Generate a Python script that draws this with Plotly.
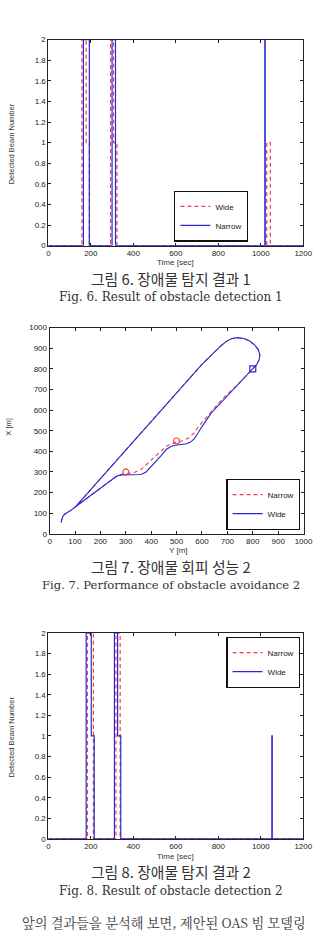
import plotly.graph_objects as go

W, H = 320, 936

# ---------------- Data ----------------
# Fig. 6 : detected beam number vs time (step functions, change points)
f6_wide_t = [0, 158, 178, 193, 293, 307, 323, 1028, 1045, 1200]
f6_wide_v = [0, 2, 1, 0, 2, 1, 0, 1, 0, 0]
f6_narrow_t = [0, 165, 193, 300, 316, 1019, 1021, 1200]
f6_narrow_v = [0, 2, 0, 2, 0, 2, 0, 0]

# Fig. 7 : trajectories (Y [m], X [m])
f7_narrow_y = [45, 47, 52, 60, 72, 85, 98, 150, 200, 240, 262, 280, 300, 330, 360, 385, 410, 435,
               460, 480, 500, 520, 548, 570, 586, 610, 640, 674, 700, 750, 800,
               815, 825, 828, 822, 808, 788, 765, 740, 715, 695, 675, 600, 500, 400, 300, 200, 130, 105]
f7_narrow_x = [56, 70, 85, 96, 104, 115, 128, 175, 222, 258, 278, 286, 292, 296, 312, 340, 370, 398,
               425, 438, 445, 450, 465, 490, 520, 555, 595, 645, 678, 735, 800,
               820, 843, 868, 892, 915, 935, 947, 951, 946, 932, 912, 822, 684, 546, 408, 270, 172, 136]
f7_wide_y = [45, 47, 52, 60, 72, 85, 98, 150, 200, 240, 262, 280, 300, 340, 360, 380, 400, 420, 440,
             460, 480, 500, 520, 540, 555, 570, 585, 600, 636, 700, 750, 800,
             815, 825, 828, 822, 808, 788, 765, 740, 715, 695, 675, 600, 500, 400, 300, 200, 130, 105]
f7_wide_x = [56, 70, 85, 96, 104, 115, 128, 175, 222, 258, 278, 286, 287, 286, 288, 300, 325, 350, 380,
             410, 425, 431, 433, 437, 445, 462, 490, 520, 585, 670, 735, 800,
             820, 843, 868, 892, 915, 935, 947, 951, 946, 932, 912, 822, 684, 546, 408, 270, 172, 136]
f7_obst_y = [300, 500]
f7_obst_x = [300, 450]
f7_wp_y = [800]
f7_wp_x = [800]

# Fig. 8 : detected beam number vs time
f8_narrow_t = [0, 184, 212, 318, 338, 1200]
f8_narrow_v = [0, 2, 0, 2, 0, 0]
f8_wide_t = [0, 178, 202, 216, 311, 326, 341, 1052, 1054, 1200]
f8_wide_v = [0, 2, 1, 0, 2, 1, 0, 1, 0, 0]

time_ticks = [0, 200, 400, 600, 800, 1000, 1200]
beam_ticks = [0, 0.2, 0.4, 0.6, 0.8, 1, 1.2, 1.4, 1.6, 1.8, 2]
pos_ticks = [0, 100, 200, 300, 400, 500, 600, 700, 800, 900, 1000]

# ---------------- Styles ----------------
RED = "rgb(236,64,72)"
BLUE = "rgb(40,40,215)"
DASH = "4px,3px"
FONT = "Liberation Sans, Arial, sans-serif"


def px(x):
    return x / W


def py(y):
    return 1 - y / H


fig = go.Figure()

# Fig 6
fig.add_trace(go.Scatter(x=f6_wide_t, y=f6_wide_v, mode="lines", name="Wide", line_shape="hv",
                         line=dict(color=RED, width=1.2, dash=DASH), xaxis="x", yaxis="y", legend="legend"))
fig.add_trace(go.Scatter(x=f6_narrow_t, y=f6_narrow_v, mode="lines", name="Narrow", line_shape="hv",
                         line=dict(color=BLUE, width=1.2), xaxis="x", yaxis="y", legend="legend"))

# Fig 7
fig.add_trace(go.Scatter(x=f7_narrow_y, y=f7_narrow_x, mode="lines", name="Narrow",
                         line=dict(color=RED, width=1.1, dash=DASH), xaxis="x2", yaxis="y2", legend="legend2"))
fig.add_trace(go.Scatter(x=f7_wide_y, y=f7_wide_x, mode="lines", name="Wide",
                         line=dict(color=BLUE, width=1.1), xaxis="x2", yaxis="y2", legend="legend2"))
fig.add_trace(go.Scatter(x=f7_obst_y, y=f7_obst_x, mode="markers", showlegend=False,
                         marker=dict(symbol="circle-open", size=6, color=RED, line=dict(width=1.2)),
                         xaxis="x2", yaxis="y2"))
fig.add_trace(go.Scatter(x=f7_wp_y, y=f7_wp_x, mode="markers", showlegend=False,
                         marker=dict(symbol="square-open", size=6, color=BLUE, line=dict(width=1.2)),
                         xaxis="x2", yaxis="y2"))

# Fig 8
fig.add_trace(go.Scatter(x=f8_narrow_t, y=f8_narrow_v, mode="lines", name="Narrow", line_shape="hv",
                         line=dict(color=RED, width=1.2, dash=DASH), xaxis="x3", yaxis="y3", legend="legend3"))
fig.add_trace(go.Scatter(x=f8_wide_t, y=f8_wide_v, mode="lines", name="Wide", line_shape="hv",
                         line=dict(color=BLUE, width=1.2), xaxis="x3", yaxis="y3", legend="legend3"))

axis_common = dict(showline=True, linecolor="#222", linewidth=1, mirror="ticks", ticks="inside",
                   ticklen=3, tickcolor="#222", showgrid=False, zeroline=False,
                   ticklabeloverflow="allow",
                   tickfont=dict(family=FONT, size=8, color="#222"))

legend_common = dict(bgcolor="white", bordercolor="#111", borderwidth=1.2,
                     font=dict(family=FONT, size=8, color="#222"), itemwidth=30,
                     tracegroupgap=0)

fig.update_layout(
    width=W, height=H, autosize=False,
    margin=dict(l=0, r=0, t=0, b=0),
    paper_bgcolor="white", plot_bgcolor="white",
    xaxis=dict(domain=[px(48), px(312)], anchor="y", range=[0, 1200], tickvals=time_ticks, **axis_common),
    yaxis=dict(domain=[py(244), py(36)], anchor="x", range=[0, 2], tickvals=beam_ticks, **axis_common),
    xaxis2=dict(domain=[px(49.3), px(312.3)], anchor="y2", range=[0, 1000], tickvals=pos_ticks, **axis_common),
    yaxis2=dict(domain=[py(535), py(326.7)], anchor="x2", range=[0, 1000], tickvals=pos_ticks, **axis_common),
    xaxis3=dict(domain=[px(48), px(312)], anchor="y3", range=[0, 1200], tickvals=time_ticks, **axis_common),
    yaxis3=dict(domain=[py(843), py(635)], anchor="x3", range=[0, 2], tickvals=beam_ticks, **axis_common),
    legend=dict(x=px(255), y=py(240), xanchor="right", yanchor="bottom", **legend_common),
    legend2=dict(x=px(309), y=py(531), xanchor="right", yanchor="bottom", **legend_common),
    legend3=dict(x=px(309), y=py(639), xanchor="right", yanchor="top", **legend_common),
    showlegend=True,
)

KFONT = "Noto Sans CJK KR"
SFONT = "DejaVu Serif, Liberation Serif, serif"

annots = [
    # axis titles
    dict(text="Time [sec]", x=px(180), y=py(261), size=8, family=FONT, angle=0),
    dict(text="Detected Beam Number", x=px(10), y=py(141), size=7.5, family=FONT, angle=-90),
    dict(text="Y [m]", x=px(183), y=py(552), size=8, family=FONT, angle=0),
    dict(text="X [m]", x=px(7), y=py(427), size=7.5, family=FONT, angle=-90),
    dict(text="Time [sec]", x=px(180), y=py(861), size=8, family=FONT, angle=0),
    dict(text="Detected Beam Number", x=px(10), y=py(740), size=7.5, family=FONT, angle=-90),
    # captions
    dict(text="그림 6. 장애물 탐지 결과 1", x=px(175), y=py(277), size=14.8, family=KFONT, angle=0),
    dict(text="Fig. 6. Result of obstacle detection 1", x=px(175), y=py(296), size=12, family=SFONT, angle=0),
    dict(text="그림 7. 장애물 회피 성능 2", x=px(175), y=py(568), size=14.8, family=KFONT, angle=0),
    dict(text="Fig. 7. Performance of obstacle avoidance 2", x=px(175), y=py(587), size=11.6, family=SFONT, angle=0),
    dict(text="그림 8. 장애물 탐지 결과 2", x=px(175), y=py(876), size=14.8, family=KFONT, angle=0),
    dict(text="Fig. 8. Result of obstacle detection 2", x=px(175), y=py(896), size=12, family=SFONT, angle=0),
]
for a in annots:
    fig.add_annotation(text=a["text"], x=a["x"], y=a["y"], xref="paper", yref="paper",
                       xanchor="center", yanchor="middle", showarrow=False, textangle=a["angle"],
                       font=dict(family=a["family"], size=a["size"], color="#333"))

fig.add_annotation(text="앞의 결과들을 분석해 보면, 제안된 OAS 빔 모델링", x=px(19), y=py(927),
                   xref="paper", yref="paper", xanchor="left", yanchor="middle", showarrow=False,
                   font=dict(family="Noto Serif CJK KR, " + KFONT, size=13.2, color="#333"))

fig.write_html("out.html")
